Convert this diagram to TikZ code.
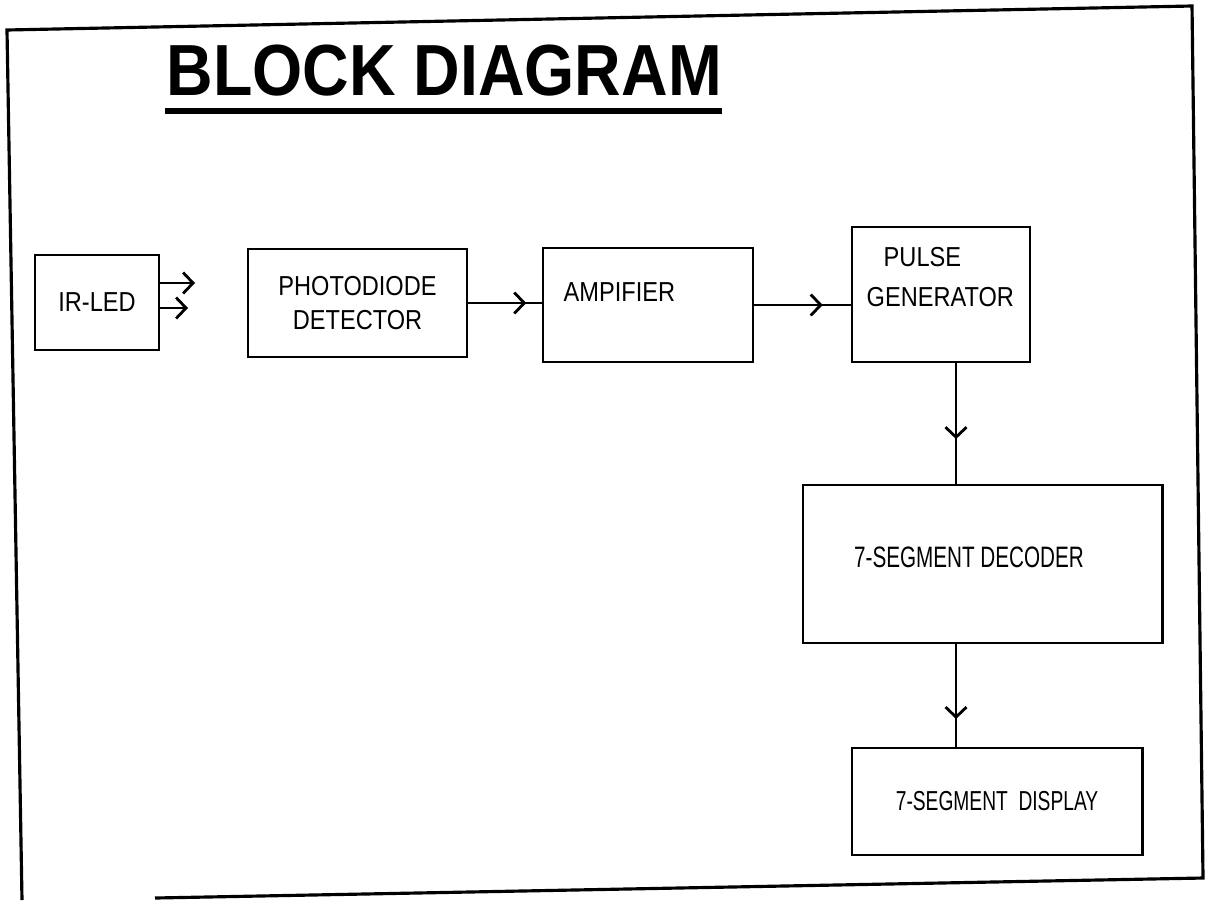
\documentclass[tikz,border=0pt]{standalone}
\usepackage{fontspec}
\usetikzlibrary{arrows.meta,decorations.markings}
\newfontfamily\titlefont[FakeStretch=0.89]{Liberation Sans}
\newfontfamily\blockfont[FakeStretch=0.86]{Liberation Sans}
\newfontfamily\narrowfont[FakeStretch=0.7]{Liberation Sans}

\tikzset{
  block/.style={draw, line width=0.8pt, rectangle, inner sep=0pt},
  blocktext/.style={font=\blockfont\fontsize{7.8}{9.7}\selectfont, inner sep=0pt},
  flow/.style={line width=0.8pt},
  midarrow/.style={flow, postaction={decorate},
    decoration={markings, mark=at position #1 with {\arrow{Straight Barb[length=1mm, width=2.1mm, line width=0.8pt]}}}},
  ray/.style={flow, -{Straight Barb[length=1mm, width=2.1mm, line width=0.8pt]}}
}

\begin{document}
\begin{tikzpicture}[x=0.01cm, y=-0.01cm]
\useasboundingbox (0,0) rectangle (1210,900);

% Frame (scanned page, slightly skewed)
\draw[line width=0.9pt] (22,900) -- (7,30) -- (1192,6) -- (1203,878) -- (155,898);

% Title
\node[anchor=base west, inner sep=0pt, font=\titlefont\bfseries\fontsize{20.6}{24}\selectfont] (title) at (166,95) {BLOCK DIAGRAM};
\draw[line width=1.5pt] (165,111) -- (722,111);

% Blocks
\node[block, minimum width=1.24cm, minimum height=0.95cm, blocktext] (led) at (97,302.5) {IR-LED};
\node[block, minimum width=2.19cm, minimum height=1.08cm, blocktext, align=center] (pd) at (357.5,303) {PHOTODIODE\\DETECTOR};
\node[block, minimum width=2.10cm, minimum height=1.14cm] (amp) at (648,305) {};
\node[block, minimum width=1.78cm, minimum height=1.35cm] (pg) at (941,294.5) {};
\node[block, minimum width=3.59cm, minimum height=1.58cm] (dec) at (982.5,564) {};
\node[block, minimum width=2.90cm, minimum height=1.07cm, font=\narrowfont\fontsize{7.8}{9}\selectfont] (disp) at (997,801.5) {7-SEGMENT\ \ DISPLAY};

% Texts placed off centre
\node[blocktext, anchor=west] (amptext) at (563,292) {AMPIFIER};
\node[blocktext, anchor=north west, align=left, font=\blockfont\fontsize{7.8}{11.4}\selectfont] (pgtext) at (866,247) {\hspace{1.7mm}PULSE\\GENERATOR};
\node[inner sep=0pt, font=\narrowfont\fontsize{8.4}{10}\selectfont] (dectext) at (969,557) {7-SEGMENT DECODER};

% Light from the LED
\coordinate (ray1) at (195,283);
\coordinate (ray2) at (188,308);
\draw[ray] (led.east |- ray1) -- (ray1);
\draw[ray] (led.east |- ray2) -- (ray2);

% Signal path
\coordinate (bus) at (956,0);
\draw[midarrow=0.79] (pd.east) -- (pd.east -| amp.west);
\draw[midarrow=0.71] (amp.east) -- (amp.east -| pg.west);
\draw[midarrow=0.63] (pg.south -| bus) -- (dec.north -| bus);
\draw[midarrow=0.73] (dec.south -| bus) -- (disp.north -| bus);

\end{tikzpicture}
\end{document}
